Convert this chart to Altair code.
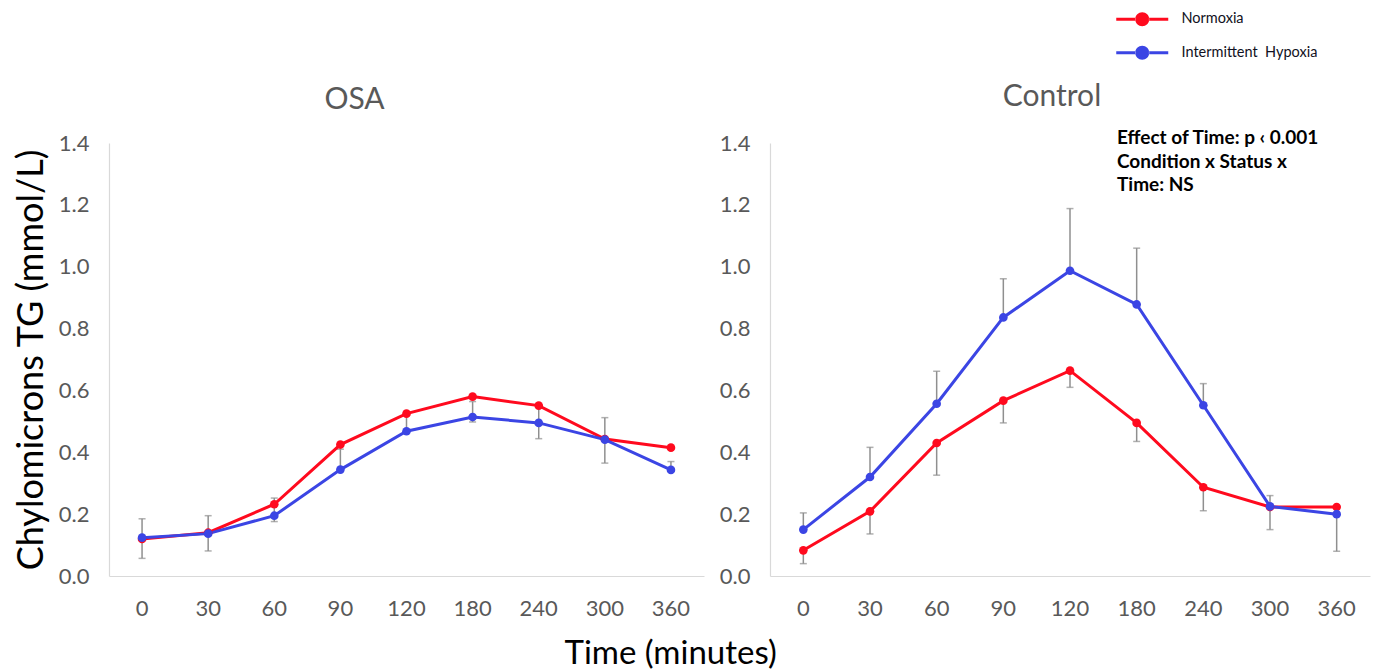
import altair as alt
import pandas as pd

# ---------------- data ----------------
times = ["0", "30", "60", "90", "120", "180", "240", "300", "360"]
series = ["Normoxia", "Intermittent\u00a0 Hypoxia"]
colors = ["#ff0a1e", "#3b45e4"]

osa_normoxia = [0.120, 0.140, 0.232, 0.425, 0.525, 0.580, 0.551, 0.443, 0.415]
osa_ih = [0.124, 0.137, 0.195, 0.344, 0.468, 0.514, 0.495, 0.441, 0.343]
osa_err_lo = [0.057, 0.081, 0.176, 0.344, 0.470, 0.498, 0.444, 0.365, 0.343]
osa_err_hi = [0.185, 0.195, 0.252, 0.410, 0.520, 0.564, 0.548, 0.512, 0.370]

ctrl_normoxia = [0.083, 0.209, 0.430, 0.567, 0.664, 0.495, 0.287, 0.223, 0.223]
ctrl_ih = [0.150, 0.320, 0.557, 0.836, 0.987, 0.878, 0.552, 0.225, 0.200]
ctrl_ih_err_lo = [0.150, 0.320, 0.557, 0.836, 0.987, 0.878, 0.552, 0.225, 0.080]
ctrl_ih_err_hi = [0.204, 0.416, 0.662, 0.961, 1.188, 1.060, 0.622, 0.260, 0.200]
ctrl_nx_err_lo = [0.040, 0.136, 0.326, 0.495, 0.610, 0.435, 0.211, 0.150, 0.223]
ctrl_nx_err_hi = [0.083, 0.209, 0.430, 0.567, 0.664, 0.495, 0.287, 0.223, 0.223]

y_ticks = [0.0, 0.2, 0.4, 0.6, 0.8, 1.0, 1.2, 1.4]
annotation = ["Effect of Time: p \u2039 0.001", "Condition x Status x", "Time: NS"]

FONT = "Lato"
GRAY_TXT = "#595959"
AXIS_LINE = "#d9d9d9"
ERR = "#8f8f8f"

# legend glyph: a line through a dot (unit = symbol radius)
LEGEND_PATH = ("M-3.714,-0.214H-0.95V0.214H-3.714Z"
               "M0.95,-0.214H3.714V0.214H0.95Z"
               "M-1,0A1,1 0 1,0 1,0A1,1 0 1,0 -1,0Z")


def means_df(nx, ih):
    rows = []
    for s, vals in zip(series, [nx, ih]):
        for t, v in zip(times, vals):
            rows.append({"time": t, "series": s, "value": v})
    return pd.DataFrame(rows)


def err_df(pairs):
    rows = []
    for lo, hi in pairs:
        for t, a, b in zip(times, lo, hi):
            if b > a:
                rows.append({"time": t, "lo": a, "hi": b})
    return pd.DataFrame(rows)


def panel(title, dx, mdf, edf, ytitle, width, extra=None):
    xaxis = alt.Axis(title=None, labelAngle=0, ticks=False, tickSize=0,
                     domainColor=AXIS_LINE, domainWidth=1.2,
                     labelFontSize=22, labelColor=GRAY_TXT,
                     labelBaseline="middle", labelPadding=32)
    yaxis = alt.Axis(title=ytitle, values=y_ticks, format=".1f", ticks=False,
                     tickSize=0, grid=False, domainColor=AXIS_LINE, domainWidth=1.2,
                     labelFontSize=22, labelColor=GRAY_TXT, labelPadding=20,
                     titleFontSize=36, titleColor="black", titleFontWeight="normal",
                     titlePadding=8)
    x = alt.X("time:N", sort=times, scale=alt.Scale(domain=times), axis=xaxis)
    ys = alt.Scale(domain=[0, 1.4], nice=False, zero=True)

    eb = alt.Chart(edf)
    rules = eb.mark_rule(color=ERR, strokeWidth=1.5).encode(
        x=x, y=alt.Y("lo:Q", scale=ys, axis=yaxis), y2="hi:Q")
    cap_lo = eb.mark_tick(color=ERR, thickness=1.5, size=7, orient="horizontal").encode(
        x=x, y=alt.Y("lo:Q", scale=ys, axis=yaxis))
    cap_hi = eb.mark_tick(color=ERR, thickness=1.5, size=7, orient="horizontal").encode(
        x=x, y=alt.Y("hi:Q", scale=ys, axis=yaxis))

    mb = alt.Chart(mdf)
    lines = [
        mb.transform_filter(alt.datum.series == s).mark_line(color=c, strokeWidth=3)
        .encode(x=x, y=alt.Y("value:Q", scale=ys, axis=yaxis))
        for s, c in zip(series, colors)
    ]
    legend = alt.Legend(title=None, orient="none", legendX=1026, legendY=-131,
                        direction="vertical", symbolType=LEGEND_PATH, symbolSize=196,
                        symbolStrokeWidth=0, symbolOpacity=1, labelFontSize=14.5,
                        labelFont=FONT, labelColor="#111122", labelOffset=32,
                        rowPadding=17.5, padding=0)
    points = mb.mark_circle(size=75, opacity=1).encode(
        x=x, y=alt.Y("value:Q", scale=ys, axis=yaxis),
        color=alt.Color("series:N", scale=alt.Scale(domain=series, range=colors),
                        legend=legend))
    layers = [rules, cap_lo, cap_hi] + lines + [points]
    if extra is not None:
        layers.append(extra)
    return alt.layer(*layers).properties(
        width=width, height=433,
        title=alt.TitleParams(title, fontSize=30, font=FONT, fontWeight="normal",
                              color=GRAY_TXT, anchor="middle", dx=dx, dy=7, offset=0,
                              baseline="alphabetic", frame="group"))


annot = alt.Chart(pd.DataFrame({"k": [0]})).mark_text(
    align="left", baseline="middle", fontSize=19, fontWeight="bold", font=FONT,
    color="black", lineHeight=23.5).encode(
    x=alt.value(347), y=alt.value(-5), text=alt.value(annotation))

osa = panel("OSA", -52, means_df(osa_normoxia, osa_ih),
            err_df([(osa_err_lo, osa_err_hi)]), "Chylomicrons TG (mmol/L)", 595)
ctrl = panel("Control", -18, means_df(ctrl_normoxia, ctrl_ih),
             err_df([(ctrl_ih_err_lo, ctrl_ih_err_hi), (ctrl_nx_err_lo, ctrl_nx_err_hi)]),
             None, 600, extra=annot)

chart = alt.hconcat(osa, ctrl, spacing=15).properties(
    padding={"left": 5, "top": 4, "right": 5, "bottom": 0},
    title=alt.TitleParams("Time (minutes)", orient="bottom", anchor="middle",
                          fontSize=33, font=FONT, fontWeight="normal", color="black",
                          dx=-21, offset=19),
).configure_view(stroke=None).configure_axis(
    labelFont=FONT, titleFont=FONT
).configure_legend(labelFont=FONT).configure_title(font=FONT)

chart.save("out.html", embed_options={"renderer": "svg", "actions": False})
